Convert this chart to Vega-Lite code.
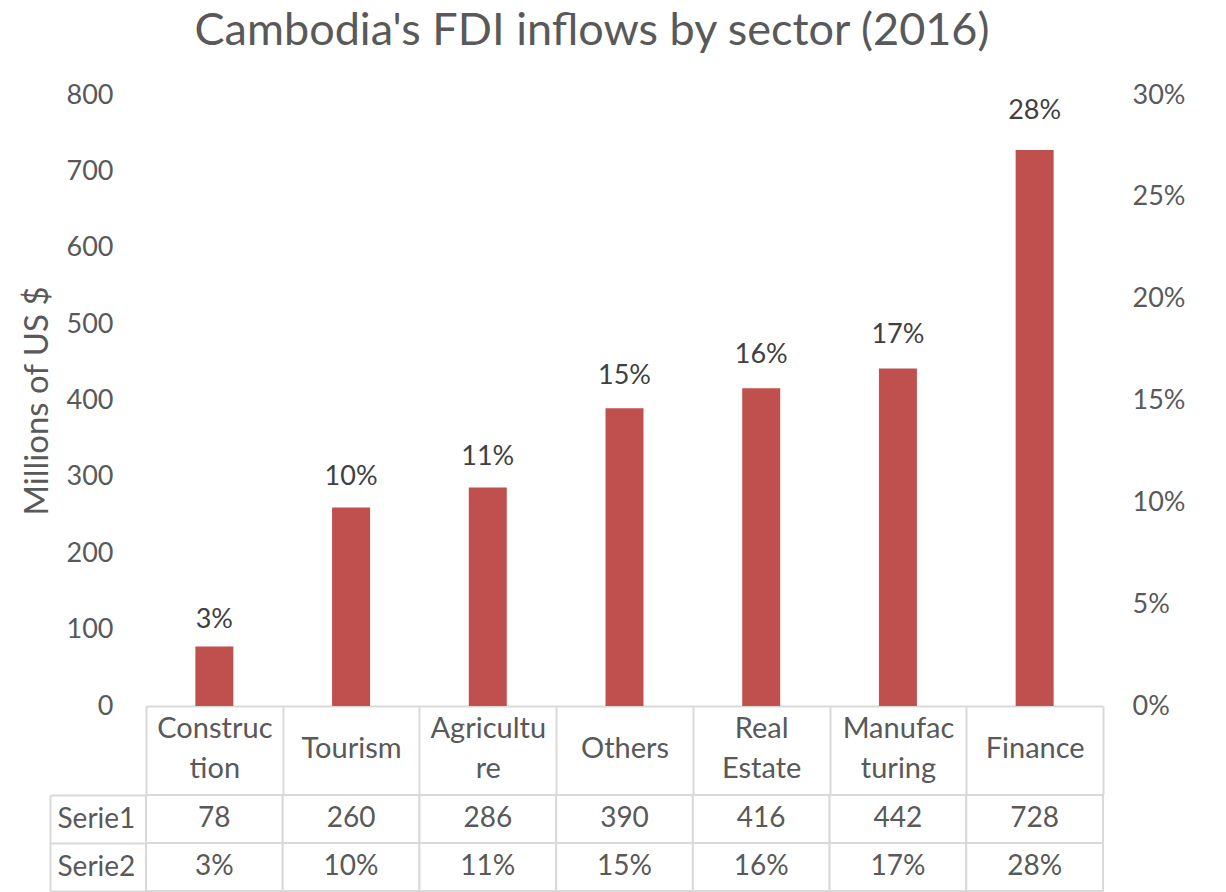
{
  "$schema": "https://vega.github.io/schema/vega-lite/v6.json",
  "background": "white",
  "padding": {"left": 21, "top": 9, "right": 10, "bottom": 0},
  "title": {"text": "Cambodia's FDI inflows by sector (2016)", "fontSize": 45, "font": "Lato", "fontWeight": "normal", "color": "#595959", "anchor": "middle", "offset": 27, "dx": -11},
  "config": {"view": {"stroke": null}, "font": "Lato"},
  "spacing": -14,
  "data": {"values": [
    {"sector": "Construction", "Serie1": 78, "Serie2": 0.03},
    {"sector": "Tourism", "Serie1": 260, "Serie2": 0.10},
    {"sector": "Agriculture", "Serie1": 286, "Serie2": 0.11},
    {"sector": "Others", "Serie1": 390, "Serie2": 0.15},
    {"sector": "Real Estate", "Serie1": 416, "Serie2": 0.16},
    {"sector": "Manufacturing", "Serie1": 442, "Serie2": 0.17},
    {"sector": "Finance", "Serie1": 728, "Serie2": 0.28}
  ]},
  "vconcat": [
    {
      "width": 957,
      "height": 611,
      "layer": [
        {
          "mark": {"type": "bar", "color": "#C0504D", "width": 38},
          "encoding": {
            "x": {"field": "sector", "type": "nominal", "sort": null,
              "scale": {"paddingInner": 0, "paddingOuter": 0},
              "axis": {"title": null, "orient": "bottom", "labelAngle": 0, "domain": true, "domainColor": "#D9D9D9", "domainWidth": 2,
                "ticks": true, "tickBand": "extent", "tickSize": 88, "tickColor": "#D9D9D9", "tickWidth": 2,
                "labelPadding": {"condition": {"test": "indexof(['Construction','Agriculture','Real Estate','Manufacturing'], datum.value) >= 0", "value": -66}, "value": -46},
                "labelBaseline": "middle", "labelFontSize": 29, "labelLineHeight": 40, "labelColor": "#595959", "labelLimit": 300,
                "labelExpr": "datum.value == 'Construction' ? ['Construc','tion'] : datum.value == 'Agriculture' ? ['Agricultu','re'] : datum.value == 'Real Estate' ? ['Real','Estate'] : datum.value == 'Manufacturing' ? ['Manufac','turing'] : datum.value"}},
            "y": {"field": "Serie1", "type": "quantitative", "scale": {"domain": [0, 800]},
              "axis": {"title": "Millions of US $", "titleFontSize": 33, "titleFontWeight": "normal", "titleColor": "#595959", "titlePadding": 12,
                "values": [0, 100, 200, 300, 400, 500, 600, 700, 800], "labelFontSize": 27, "labelColor": "#595959", "labelPadding": 33,
                "domain": false, "ticks": false, "grid": false}}
          }
        },
        {
          "mark": {"type": "text", "dy": -25, "fontSize": 27, "color": "#404040"},
          "encoding": {
            "x": {"field": "sector", "type": "nominal", "sort": null},
            "y": {"field": "Serie2", "type": "quantitative", "scale": {"domain": [0, 0.3]},
              "axis": {"orient": "right", "title": null, "format": ".0%", "values": [0, 0.05, 0.1, 0.15, 0.2, 0.25, 0.3],
                "labelFontSize": 27, "labelColor": "#595959", "labelPadding": 29, "domain": false, "ticks": false, "grid": false}},
            "text": {"field": "Serie2", "type": "quantitative", "format": ".0%"}
          }
        }
      ],
      "resolve": {"scale": {"y": "independent"}}
    },
    {
      "width": 957,
      "height": 96,
      "transform": [{"fold": ["Serie1", "Serie2"], "as": ["row", "v"]}],
      "encoding": {
        "x": {"field": "sector", "type": "nominal", "sort": null, "scale": {"paddingInner": 0, "paddingOuter": 0}, "axis": null},
        "y": {"field": "row", "type": "nominal",
          "axis": {"title": null, "orient": "left", "offset": 96, "domain": true, "domainColor": "#D9D9D9", "domainWidth": 2,
            "ticks": true, "tickBand": "extent", "tickSize": -96, "tickColor": "#D9D9D9", "tickWidth": 2,
            "labelAlign": "left", "labelPadding": 89, "labelFontSize": 28, "labelColor": "#595959", "grid": false}}
      },
      "layer": [
        {"mark": {"type": "rect", "fill": "white", "stroke": "#D9D9D9", "strokeWidth": 2}},
        {"transform": [{"filter": "datum.row == 'Serie1'"}],
          "mark": {"type": "text", "fontSize": 28, "color": "#595959"},
          "encoding": {"text": {"field": "v", "type": "quantitative", "format": "d"}}},
        {"transform": [{"filter": "datum.row == 'Serie2'"}],
          "mark": {"type": "text", "fontSize": 28, "color": "#595959"},
          "encoding": {"text": {"field": "v", "type": "quantitative", "format": ".0%"}}}
      ]
    }
  ]
}
